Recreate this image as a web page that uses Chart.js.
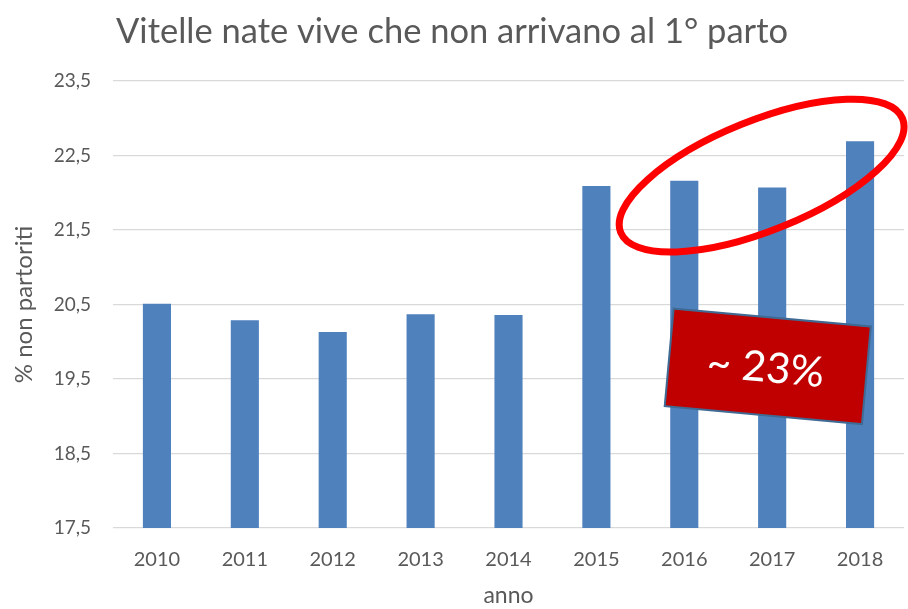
<!DOCTYPE html>
<html>
<head>
<meta charset="utf-8">
<script src="https://cdn.jsdelivr.net/npm/chart.js@4/dist/chart.umd.min.js"></script>
<style>
  html, body { margin: 0; padding: 0; background: #fff; }
  #wrap { width: 908px; height: 609px; }
</style>
</head>
<body>
<div id="wrap"><canvas id="chart"></canvas></div>
<script>
const years = ['2010', '2011', '2012', '2013', '2014', '2015', '2016', '2017', '2018'];
const nonPartoriti = [20.51, 20.29, 20.13, 20.37, 20.36, 22.09, 22.16, 22.07, 22.69];
const yTicks = [17.5, 18.5, 19.5, 20.5, 21.5, 22.5, 23.5];

const titleText = 'Vitelle nate vive che non arrivano al 1° parto';
const calloutText = '~ 23%';

const textGrey = '#595959';
const fontFamily = 'Lato, "Open Sans", sans-serif';

// red ring around the last three years + the rotated label box
const callouts = {
	id: 'callouts',
	afterDatasetsDraw(chart) {
		const { ctx, scales: { x, y } } = chart;
		ctx.save();

		// ellipse, placed with the scales
		const ex = x.getPixelForValue(6.88);
		const ey = y.getPixelForValue(22.23);
		ctx.beginPath();
		ctx.ellipse(ex, ey, 152, 55, -22 * Math.PI / 180, 0, Math.PI * 2);
		ctx.lineWidth = 7;
		ctx.strokeStyle = '#FF0000';
		ctx.stroke();

		// label box
		const bx = x.getPixelForValue(6.95);
		const by = y.getPixelForValue(19.67);
		ctx.translate(bx, by);
		ctx.rotate(5.2 * Math.PI / 180);
		ctx.fillStyle = '#C00000';
		ctx.fillRect(-99, -49, 198, 98);
		ctx.lineWidth = 2;
		ctx.strokeStyle = '#3E6A93';
		ctx.strokeRect(-99, -49, 198, 98);
		ctx.fillStyle = '#FFFFFF';
		ctx.font = '42px ' + fontFamily;
		ctx.textAlign = 'center';
		ctx.textBaseline = 'middle';
		ctx.fillText(calloutText, -2, 2);
		ctx.restore();
	},
};

const ctx = document.querySelector('#chart');

const myChart = new Chart(ctx, {
	type: 'bar',
	data: {
		labels: years,
		datasets: [
			{
				label: '% non partoriti',
				backgroundColor: '#4F81BD',
				data: nonPartoriti,
				barPercentage: 0.64,
				categoryPercentage: 0.5,
			},
		],
	},
	options: {
		responsive: true,
		maintainAspectRatio: false,
		animation: false,
		layout: { padding: { left: 0, right: 4, top: 0, bottom: 0 } },
		plugins: {
			legend: { display: false },
			tooltip: { enabled: false },
			title: {
				display: true,
				text: titleText,
				color: textGrey,
				font: { family: fontFamily, size: 34.5, weight: 'normal' },
				padding: { top: 11, bottom: 28.6 },
			},
		},
		scales: {
			x: {
				grid: { display: false },
				border: { display: false },
				ticks: {
					color: textGrey,
					font: { family: fontFamily, size: 20 },
					padding: 12,
				},
				title: {
					display: true,
					text: 'anno',
					color: textGrey,
					font: { family: fontFamily, size: 23 },
					padding: { top: 8, bottom: 0 },
				},
				afterFit(scale) { scale.height = 81; },
			},
			y: {
				min: 17.5,
				max: 23.5,
				afterBuildTicks(scale) {
					scale.ticks = yTicks.map(v => ({ value: v }));
				},
				grid: { color: '#D9D9D9', lineWidth: 1.3, drawTicks: false },
				border: { display: false },
				ticks: {
					color: textGrey,
					font: { family: fontFamily, size: 19 },
					padding: 22,
					callback: v => v.toFixed(1).replace('.', ','),
				},
				title: {
					display: true,
					text: '% non partoriti',
					color: textGrey,
					font: { family: fontFamily, size: 24 },
					padding: { top: 10, bottom: 4 },
				},
				afterFit(scale) { scale.width = 113; },
			},
		},
	},
	plugins: [callouts],
});
</script>
</body>
</html>
